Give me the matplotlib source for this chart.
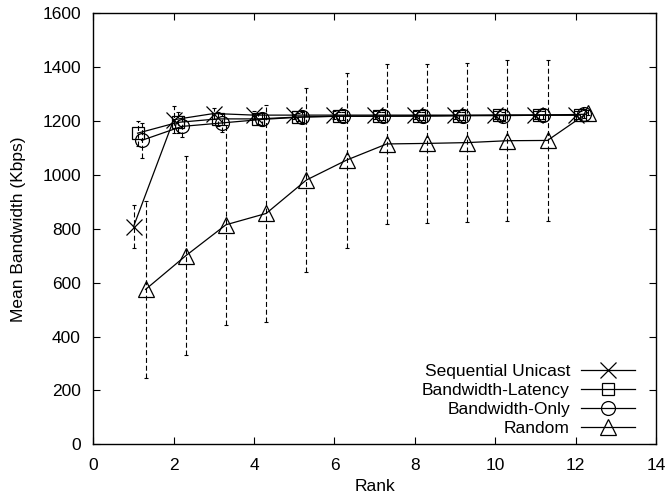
import matplotlib
matplotlib.use("Agg")
import matplotlib.pyplot as plt
import numpy as np

plt.rcParams['font.family'] = ['Liberation Sans', 'DejaVu Sans']
plt.rcParams['font.size'] = 12.5

ranks = np.arange(1, 13)
offsets = [0.0, 0.1, 0.2, 0.3]
labels = ["Sequential Unicast", "Bandwidth-Latency", "Bandwidth-Only", "Random"]

seq_mean = [808, 1205, 1228, 1222, 1222, 1222, 1222, 1222, 1222, 1222, 1222, 1222]
seq_err = [80, 50, 20, 15, 15, 15, 15, 15, 15, 15, 15, 15]
bl_mean = [1155, 1195, 1208, 1208, 1215, 1218, 1218, 1220, 1220, 1222, 1222, 1222]
bl_err = [46, 40, 25, 20, 15, 15, 15, 15, 15, 15, 15, 15]
bo_mean = [1128, 1180, 1193, 1206, 1215, 1218, 1218, 1218, 1220, 1220, 1222, 1225]
bo_err = [65, 40, 35, 25, 20, 15, 15, 15, 15, 15, 15, 15]
rand_mean = [575, 700, 815, 857, 981, 1055, 1115, 1117, 1120, 1127, 1128, 1231]
rand_err = [330, 370, 372, 402, 340, 325, 296, 295, 295, 298, 298, 10]

means = [seq_mean, bl_mean, bo_mean, rand_mean]
errs = [seq_err, bl_err, bo_err, rand_err]
markers = ['x', 's', 'o', '^']
msizes = [11, 9, 10, 11]

fig = plt.figure(figsize=(6.69, 4.96), dpi=100)
ax = fig.add_axes([0.1395, 0.1042, 0.8411, 0.869])

handles = []
for i in range(4):
    x = ranks + offsets[i]
    eb = ax.errorbar(x, means[i], yerr=errs[i], fmt='none', ecolor='black',
                     elinewidth=0.8, capsize=1.5, capthick=0.8, zorder=2)
    eb[2][0].set_linestyle((0, (4.5, 2.5)))
    h, = ax.plot(x, means[i], color='black', lw=0.9, marker=markers[i],
                 ms=msizes[i], mfc='none', mec='black', mew=0.9, zorder=3,
                 label=labels[i])
    handles.append(h)

ax.set_xlim(0, 14)
ax.set_ylim(0, 1600)
ax.set_xticks(np.arange(0, 15, 2))
ax.set_yticks(np.arange(0, 1601, 200))
ax.tick_params(direction='in', top=True, right=True, length=5, width=0.8)
ax.tick_params(axis='x', pad=10)
ax.tick_params(axis='y', pad=9)
for s in ax.spines.values():
    s.set_linewidth(1.0)
ax.set_xlabel("Rank", labelpad=4)
ax.set_ylabel("Mean Bandwidth (Kbps)", labelpad=12)

leg = ax.legend(handles=handles, loc='lower right', bbox_to_anchor=(0.963, 0.02),
                frameon=False, markerfirst=False, handlelength=3.1,
                handletextpad=0.66, labelspacing=0.22, borderpad=0,
                borderaxespad=0)

fig.savefig("out.png", dpi=100)
